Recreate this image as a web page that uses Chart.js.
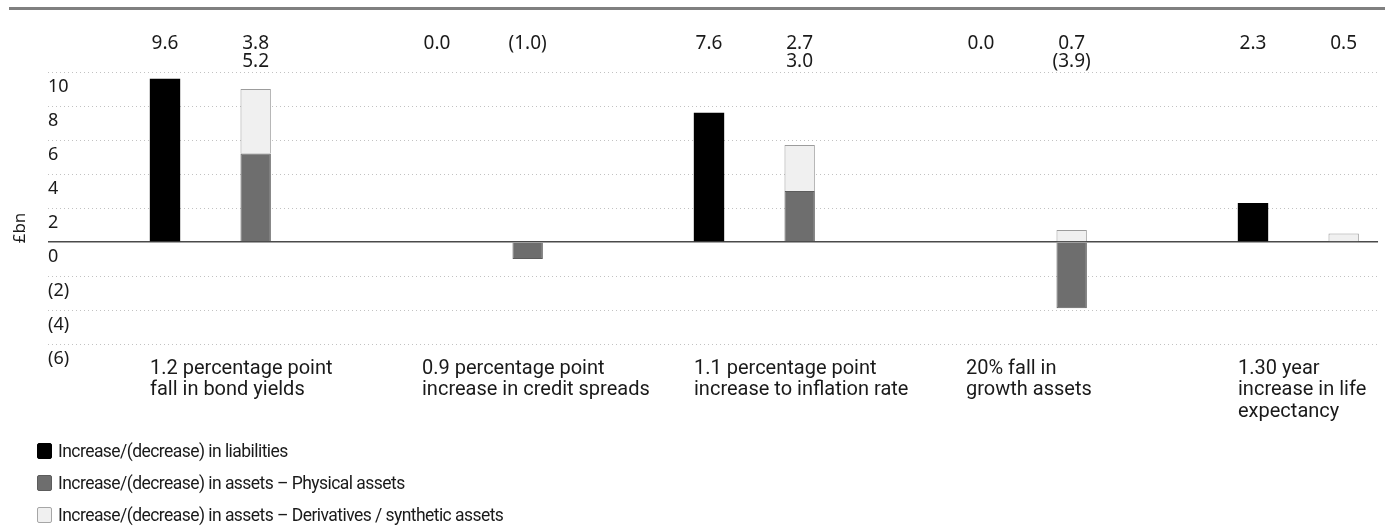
<!DOCTYPE html>
<html>
<head>
<meta charset="utf-8">
<title>Sensitivity of liabilities and assets</title>
<script src="https://cdn.jsdelivr.net/npm/chart.js@4.4.1/dist/chart.umd.min.js"></script>
<style>
  html, body { margin: 0; padding: 0; background: #fff; }
  #wrap { position: relative; width: 1385px; height: 527px; }
  #legend { position: absolute; left: 37px; top: 435px; font: 17.5px Roboto, sans-serif; letter-spacing: -0.55px; color: #1a1a1a; }
  #legend .item { display: flex; align-items: center; height: 32px; }
  #legend .box { width: 15px; height: 16px; margin-right: 6px; border: 1px solid; border-radius: 2px; box-sizing: border-box; }
</style>
</head>
<body>
<div id="wrap">
  <canvas id="chart" width="1385" height="527"></canvas>
  <div id="legend"></div>
</div>
<script>
// chart data
const categories = [
  ["1.2 percentage point", "fall in bond yields"],
  ["0.9 percentage point", "increase in credit spreads"],
  ["1.1 percentage point", "increase to inflation rate"],
  ["20% fall in", "growth assets"],
  ["1.30 year", "increase in life", "expectancy"]
];
const liabilities = [9.6, 0.0, 7.6, 0.0, 2.3];
const physicalAssets = [5.2, -1.0, 3.0, -3.9, null];
const derivativeAssets = [3.8, null, 2.7, 0.7, 0.5];
const yTickValues = [10, 8, 6, 4, 2, 0, -2, -4, -6];

const seriesNames = [
  "Increase/(decrease) in liabilities",
  "Increase/(decrease) in assets \u2013 Physical assets",
  "Increase/(decrease) in assets \u2013 Derivatives / synthetic assets"
];

const TEXT = "#1a1a1a";
const fmt = v => v < 0 ? `(${Math.abs(v).toFixed(1)})` : v.toFixed(1);

// thin grey rule across the top + "£bn" axis caption
const frame = {
  id: "frame",
  afterDraw(chart) {
    const { ctx } = chart;
    ctx.save();
    ctx.strokeStyle = "#808080";
    ctx.lineWidth = 3;
    ctx.beginPath();
    ctx.moveTo(9, 8.5);
    ctx.lineTo(chart.width, 8.5);
    ctx.stroke();

    ctx.translate(20, 228);
    ctx.rotate(-Math.PI / 2);
    ctx.fillStyle = TEXT;
    ctx.font = '17px "Noto Sans"';
    ctx.textAlign = "center";
    ctx.textBaseline = "middle";
    ctx.fillText("\u00a3bn", 0, 0);
    ctx.restore();
  }
};

// value labels above the plot, one column per bar
const valueLabels = {
  id: "valueLabels",
  afterDatasetsDraw(chart) {
    const { ctx } = chart;
    const liab = chart.getDatasetMeta(1).data;
    const assets = chart.getDatasetMeta(2).data;
    ctx.save();
    ctx.fillStyle = TEXT;
    ctx.font = '19px "Noto Sans"';
    ctx.textAlign = "center";
    ctx.textBaseline = "middle";
    liabilities.forEach((v, i) => ctx.fillText(fmt(v), liab[i].x, 44));
    physicalAssets.forEach((p, i) => {
      const d = derivativeAssets[i];
      const rows = [d, p].filter(v => v !== null);
      rows.forEach((v, r) => ctx.fillText(fmt(v), assets[i].x, 44 + r * 18));
    });
    ctx.restore();
  }
};

const htmlLegend = {
  id: "htmlLegend",
  afterUpdate(chart) {
    const box = document.getElementById("legend");
    box.innerHTML = "";
    chart.data.datasets.filter(ds => ds.label).forEach(ds => {
      const item = document.createElement("div");
      item.className = "item";
      const sw = document.createElement("span");
      sw.className = "box";
      sw.style.background = ds.backgroundColor;
      sw.style.borderColor = ds.legendBorder;
      const txt = document.createElement("span");
      txt.textContent = ds.label;
      item.appendChild(sw);
      item.appendChild(txt);
      box.appendChild(item);
    });
  }
};

const barOpts = { categoryPercentage: 1.0, barPercentage: 0.335 };

new Chart(document.getElementById("chart"), {
  type: "bar",
  data: {
    labels: categories,
    datasets: [
      // empty slot so each pair sits right of the category centre
      { label: "", data: categories.map(() => null), stack: "gap", ...barOpts },
      { label: seriesNames[0], data: liabilities, stack: "liab", backgroundColor: "#000000",
        borderWidth: 0, legendBorder: "#000000", ...barOpts },
      { label: seriesNames[1], data: physicalAssets, stack: "assets", backgroundColor: "#6e6e6e",
        borderColor: "#5c5c5c", borderWidth: 1, legendBorder: "#5c5c5c", ...barOpts },
      { label: seriesNames[2], data: derivativeAssets, stack: "assets", backgroundColor: "#f0f0f0",
        borderColor: "#9c9c9c", borderWidth: 1, legendBorder: "#a6a6a6", ...barOpts }
    ]
  },
  options: {
    responsive: false,
    animation: false,
    devicePixelRatio: 1,
    layout: { padding: { left: 29, right: -4, top: 72, bottom: 0 } },
    plugins: {
      legend: { display: false },
      tooltip: { enabled: false }
    },
    scales: {
      x: {
        fullSize: true,
        grid: { display: false, drawTicks: false },
        border: { display: false },
        afterFit: s => { s.height = 183; },
        ticks: {
          color: TEXT,
          font: { family: "Roboto", size: 20, lineHeight: 1.07 },
          align: "start",
          labelOffset: -15,
          padding: 14,
          maxRotation: 0,
          autoSkip: false
        }
      },
      y: {
        stacked: true,
        min: -6,
        max: 10,
        afterFit: s => { s.width = 19; },
        afterBuildTicks: s => { s.ticks = yTickValues.map(v => ({ value: v })); },
        grid: {
          drawTicks: false,
          color: c => c.tick && c.tick.value === 0 ? "#4a4a4a" : "#c2c2c2",
          lineWidth: c => c.tick && c.tick.value === 0 ? 1.5 : 1
        },
        border: {
          display: false,
          dash: c => c.tick && c.tick.value === 0 ? [] : [1, 3]
        },
        ticks: {
          mirror: true,
          padding: 0,
          labelOffset: 15,
          color: TEXT,
          font: { family: "Noto Sans", size: 18 },
          callback: v => v < 0 ? `(${-v})` : `${v}`
        }
      }
    }
  },
  plugins: [frame, valueLabels, htmlLegend]
});
</script>
</body>
</html>
